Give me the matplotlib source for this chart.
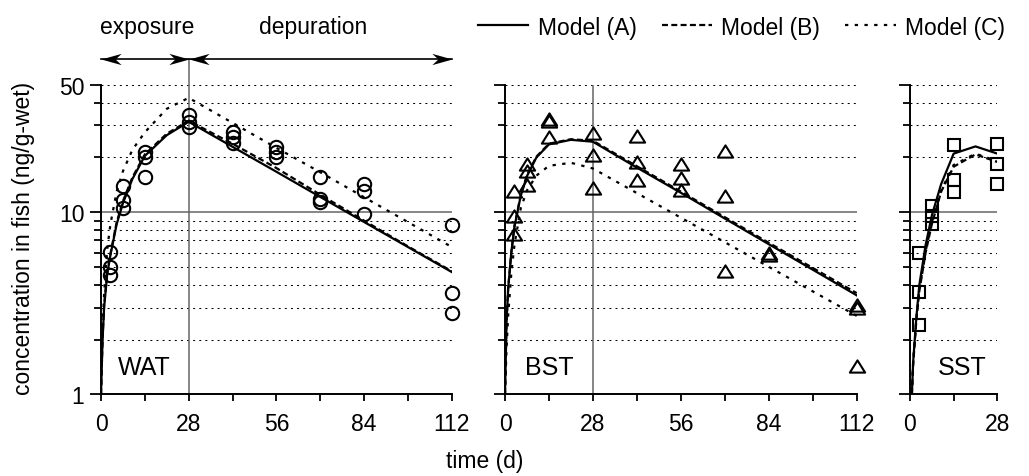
import matplotlib
matplotlib.use('Agg')
import matplotlib.pyplot as plt
from matplotlib.path import Path
from matplotlib.ticker import FixedLocator, NullFormatter
import matplotlib.transforms as mtrans

plt.rcParams['font.family'] = ['Liberation Sans', 'DejaVu Sans']
plt.rcParams['lines.scale_dashes'] = False

# ---------------- data ----------------
# WAT
wat_obs_days = [3, 3, 3, 7, 7, 7, 14, 14, 14, 28, 28, 28, 42, 42, 42, 56, 56, 56,
                70, 70, 70, 84, 84, 84, 112, 112, 112]
wat_obs_vals = [6.05, 5.0, 4.5, 13.9, 11.7, 10.5, 21.5, 20.0, 15.6, 34.2, 31.4, 29.5,
                27.7, 26.0, 23.9, 22.9, 21.5, 20.2, 15.7, 11.9, 11.4, 14.3, 13.1, 9.8,
                8.5, 3.6, 2.8]
wat_model_days = [0, 0.5, 1, 2, 3, 5, 7, 10, 14, 21, 28, 42, 56, 70, 84, 98, 112]
wat_model_a = [1.0, 2.0, 3.0, 4.6, 5.8, 8.6, 11.2, 15.2, 20.4, 26.5, 31.4,
               22.9, 16.7, 12.15, 8.85, 6.45, 4.7]
wat_model_b = [1.0, 2.05, 3.1, 4.7, 5.9, 8.8, 11.5, 15.5, 20.8, 27.0, 31.8,
               23.8, 17.5, 12.5, 9.0, 6.5, 4.75]
wat_model_c = [1.0, 2.3, 3.6, 6.3, 8.6, 13.0, 16.8, 22.0, 27.5, 37.0, 42.5,
               31.0, 22.6, 16.6, 12.1, 8.84, 6.45]

# BST
bst_obs_days = [3, 3, 3, 7, 7, 7, 14, 14, 14, 28, 28, 28, 42, 42, 42, 56, 56, 56,
                70, 70, 70, 84, 84, 112, 112, 112]
bst_obs_vals = [13.1, 9.55, 7.6, 18.4, 16.8, 14.2, 32.5, 31.7, 26.0, 27.1, 20.6, 13.6,
                26.3, 18.8, 15.0, 18.4, 15.5, 13.2, 21.7, 12.3, 4.76, 6.0, 5.8,
                3.1, 3.0, 1.44]
bst_model_days = [0, 0.5, 1, 2, 3, 5, 7, 10, 14, 21, 28, 42, 56, 70, 84, 98, 112]
bst_model_a = [1.0, 2.5, 3.8, 6.0, 8.3, 12.3, 15.8, 20.0, 23.6, 25.0, 24.4,
               17.6, 12.8, 9.24, 6.68, 4.84, 3.5]
bst_model_b = [1.0, 2.5, 3.8, 6.0, 8.4, 12.4, 16.0, 20.2, 23.8, 25.2, 24.7,
               17.9, 13.0, 9.4, 6.8, 4.95, 3.6]
bst_model_c = [1.0, 1.8, 2.7, 4.6, 6.6, 10.5, 13.2, 15.9, 18.0, 18.7, 17.4,
               12.75, 9.34, 6.85, 5.02, 3.68, 2.7]

# SST
sst_obs_days = [3, 3, 3, 7, 7, 7, 14, 14, 14, 28, 28, 28]
sst_obs_vals = [6.0, 3.67, 2.39, 10.8, 9.6, 8.6, 23.4, 15.0, 12.9, 23.6, 18.5, 14.3]
sst_model_days = [0.6, 1, 2, 3, 5, 7, 10, 14, 21, 28]
sst_model_a = [1.0, 1.5, 2.6, 4.0, 6.6, 9.6, 14.3, 21.0, 23.0, 21.0]
sst_model_b = [1.0, 1.45, 2.5, 3.7, 6.0, 8.6, 13.0, 17.8, 20.8, 18.9]
sst_model_c = [1.0, 1.5, 2.55, 3.75, 6.1, 8.8, 13.2, 18.2, 21.0, 19.1]

panel_names = ['WAT', 'BST', 'SST']
model_labels = ['Model (A)', 'Model (B)', 'Model (C)']
y_major = [1, 10, 50]
y_minor = [2, 3, 4, 5, 6, 7, 8, 9, 20, 30, 40]
grid_vals = [2, 3, 4, 5, 6, 7, 8, 9, 20, 30, 40, 50]

# ---------------- layout ----------------
W, H = 1029, 477
fig = plt.figure(figsize=(W / 100, H / 100), dpi=100)


def px_ax(l, r, t, b):
    return fig.add_axes([l / W, 1 - b / H, (r - l) / W, (b - t) / H])


ax1 = px_ax(101, 451.7, 86, 395.4)
ax2 = px_ax(505, 856.7, 86, 395.4)
ax3 = px_ax(910, 997.3, 86, 395.4)

FS = 16.5
GRAY = '#666666'
ls_b = (0, (4.3, 2.4))
ls_c = (0, (2.4, 4.6))

tri = Path([(-1, -0.8), (1, -0.8), (0, 0.8), (-1, -0.8)],
           [Path.MOVETO, Path.LINETO, Path.LINETO, Path.CLOSEPOLY])

panels = [
    (ax1, 112, wat_obs_days, wat_obs_vals, wat_model_days, wat_model_a, wat_model_b, wat_model_c, 'o', 9.6, 0.048),
    (ax2, 112, bst_obs_days, bst_obs_vals, bst_model_days, bst_model_a, bst_model_b, bst_model_c, tri, 11.0, 0.057),
    (ax3, 28, sst_obs_days, sst_obs_vals, sst_model_days, sst_model_a, sst_model_b, sst_model_c, 's', 8.8, 0.324),
]

handles = None
for i, (ax, xmax, od, ov, md, ma, mb, mc, mk, ms, lx) in enumerate(panels):
    ax.set_yscale('log')
    ax.set_ylim(1, 50)
    ax.set_xlim(0, xmax)
    for s in ['top', 'right']:
        ax.spines[s].set_visible(False)
    for s in ['left', 'bottom']:
        ax.spines[s].set_linewidth(1.4)
        ax.spines[s].set_zorder(6)
    for g in grid_vals:
        ax.axhline(g, color='black', lw=0.75, ls=(0, (1.4, 3.0)), zorder=1)
    ax.axhline(10, color=GRAY, lw=1.1, zorder=1.5)
    if xmax == 112:
        ax.axvline(28, color=GRAY, lw=1.1, zorder=1.5)

    ax.yaxis.set_major_locator(FixedLocator(y_major))
    ax.yaxis.set_minor_locator(FixedLocator(y_minor))
    ax.yaxis.set_minor_formatter(NullFormatter())
    ax.tick_params(axis='y', which='major', length=8, width=1.3, pad=4,
                   labelsize=FS, labelleft=(i == 0))
    ax.tick_params(axis='y', which='minor', length=5, width=1.3)
    if i == 0:
        ax.set_yticklabels(['1', '10', '50'])
    ax.xaxis.set_major_locator(FixedLocator(list(range(0, xmax + 1, 28))))
    ax.xaxis.set_minor_locator(FixedLocator(list(range(14, xmax + 1, 28))))
    ax.tick_params(axis='x', which='both', length=5, width=1.3, pad=8, labelsize=FS)

    la, = ax.plot(md, ma, color='black', lw=1.6, zorder=3, label=model_labels[0])
    lb, = ax.plot(md, mb, color='black', lw=1.6, ls=ls_b, zorder=3, label=model_labels[1])
    lc, = ax.plot(md, mc, color='black', lw=1.6, ls=ls_c, zorder=3, label=model_labels[2])
    ax.plot(od, ov, ls='none', marker=mk, ms=ms, mfc='none', mec='black', mew=1.5,
            zorder=4, clip_on=False)
    ax.text(lx, (395.4 - 375) / 309.4, panel_names[i], transform=ax.transAxes,
            fontsize=18, ha='left', va='baseline')
    if handles is None:
        handles = [la, lb, lc]

# exposure / depuration arrows
blend = mtrans.blended_transform_factory(ax1.transData, ax1.transAxes)
ya = (395.4 - 60) / 309.4
ax1.plot([28, 28], [1.0, ya], transform=blend, color=GRAY, lw=1.1, clip_on=False, zorder=2)
ax1.plot([0, 112], [ya, ya], transform=blend, color='black', lw=1.2, clip_on=False)
head_r = Path([(0, 0), (-1, 0.28), (-0.7, 0), (-1, -0.28), (0, 0)],
              [Path.MOVETO, Path.LINETO, Path.LINETO, Path.LINETO, Path.CLOSEPOLY])
head_l = Path([(0, 0), (1, 0.28), (0.7, 0), (1, -0.28), (0, 0)],
              [Path.MOVETO, Path.LINETO, Path.LINETO, Path.LINETO, Path.CLOSEPOLY])
for xx, hd in [(0, head_l), (28, head_r), (28, head_l), (112, head_r)]:
    ax1.plot([xx], [ya], transform=blend, marker=hd, ms=29, color='black',
             mew=0, clip_on=False)
yt = (395.4 - 34) / 309.4
ax1.text(14.7, yt, 'exposure', transform=blend, ha='center', va='baseline', fontsize=FS)
ax1.text(67.7, yt, 'depuration', transform=blend, ha='center', va='baseline', fontsize=FS)

# legend
fig.legend(handles=handles, labels=model_labels, loc='center left',
           bbox_to_anchor=(478 / W, 1 - 28 / H), ncol=3, frameon=False,
           handlelength=2.2, handletextpad=0.4, columnspacing=1.1,
           borderaxespad=0, borderpad=0, fontsize=FS)

fig.text(24 / W, 1 - 238 / H, 'concentration in fish (ng/g-wet)', rotation=90,
         ha='center', va='center', fontsize=FS)
fig.text(485 / W, 1 - 462 / H, 'time (d)', ha='center', va='center', fontsize=FS)

fig.savefig('out.png', dpi=100)
